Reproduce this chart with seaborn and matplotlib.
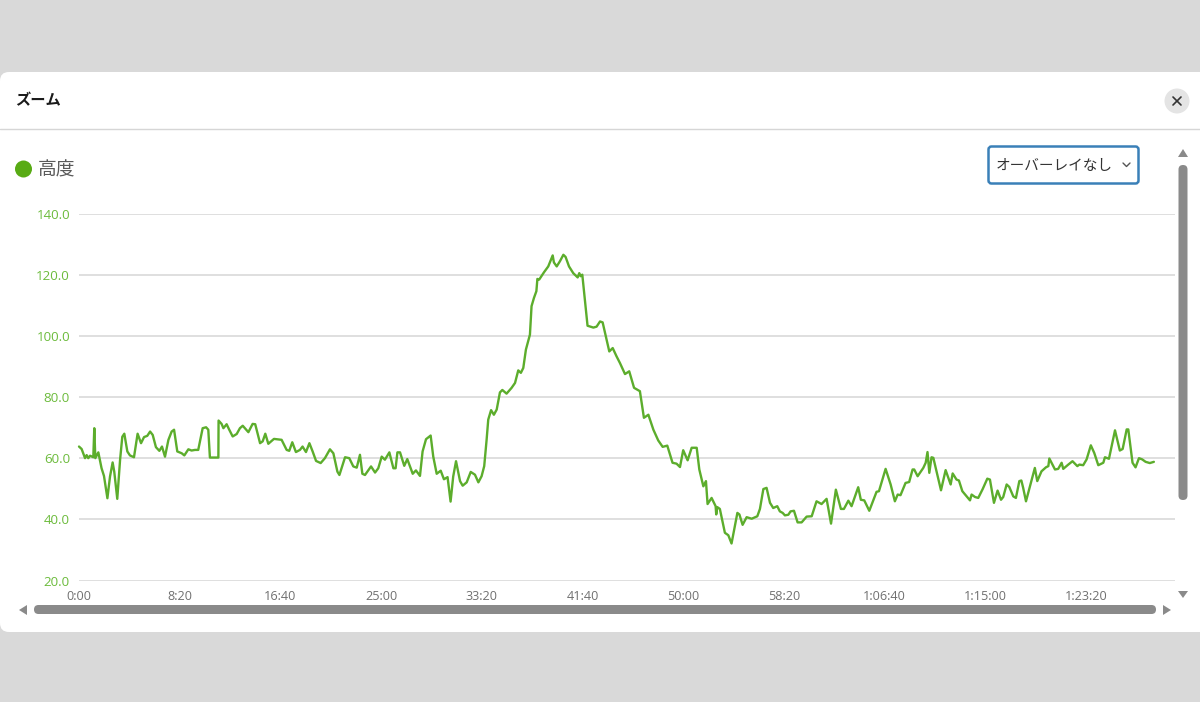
import matplotlib
matplotlib.use('Agg')
import matplotlib.pyplot as plt
from matplotlib.patches import Circle, FancyBboxPatch, Polygon
import seaborn as sns

# elevation profile (seconds, metres)
seconds = [
    0, 13, 30, 38, 46, 55, 71, 76, 81, 96, 112, 124, 141, 154, 167, 175, 190, 204, 215, 225,
    240, 253, 273, 291, 308, 323, 339, 353, 366, 382, 399, 412, 427, 444, 460, 472, 488, 510, 523, 543,
    559, 576, 592, 614, 631, 642, 650, 692, 693, 708, 717, 733, 746, 763, 783, 799, 813, 841, 862, 875,
    899, 912, 925, 940, 968, 1006, 1031, 1044, 1059, 1077, 1097, 1110, 1127, 1144, 1160, 1177, 1200, 1221, 1246, 1263,
    1283, 1293, 1321, 1342, 1362, 1379, 1395, 1407, 1420, 1450, 1470, 1486, 1503, 1519, 1541, 1561, 1572, 1581, 1594, 1615,
    1630, 1657, 1673, 1693, 1706, 1723, 1746, 1759, 1776, 1796, 1812, 1830, 1845, 1858, 1872, 1892, 1905, 1925, 1945, 1966,
    1983, 1999, 2012, 2024, 2032, 2046, 2060, 2074, 2090, 2102, 2123, 2148, 2165, 2181, 2194, 2206, 2219, 2239, 2247, 2259,
    2271, 2276, 2285, 2309, 2330, 2352, 2358, 2372, 2388, 2405, 2416, 2433, 2454, 2476, 2484, 2491, 2499, 2525, 2554, 2570,
    2587, 2600, 2616, 2633, 2650, 2669, 2686, 2711, 2732, 2756, 2785, 2805, 2827, 2852, 2876, 2898, 2921, 2947, 2967, 2984,
    3000, 3022, 3042, 3067, 3080, 3100, 3113, 3121, 3141, 3161, 3164, 3169, 3182, 3207, 3224, 3240, 3269, 3279, 3295, 3315,
    3340, 3368, 3381, 3398, 3414, 3431, 3447, 3467, 3480, 3494, 3505, 3522, 3533, 3550, 3568, 3588, 3613, 3638, 3662, 3687,
    3712, 3734, 3758, 3783, 3798, 3820, 3836, 3869, 3882, 3899, 3924, 3960, 3972, 4005, 4030, 4051, 4065, 4079, 4104, 4122,
    4139, 4147, 4164, 4192, 4204, 4213, 4222, 4233, 4242, 4280, 4303, 4328, 4338, 4357, 4369, 4386, 4424, 4432, 4449, 4465,
    4487, 4510, 4523, 4543, 4561, 4578, 4589, 4606, 4619, 4639, 4652, 4669, 4679, 4688, 4702, 4726, 4746, 4758, 4779, 4801,
    4813, 4818, 4846, 4862, 4879, 4887, 4912, 4933, 4957, 4967, 4986, 5003, 5024, 5041, 5061, 5086, 5094, 5114, 5144, 5168,
    5182, 5202, 5210, 5231, 5246, 5263, 5279, 5296, 5317, 5337,
]
altitude = [
    63.8, 63, 60, 61, 60, 60.8, 60.3, 69.8, 60, 61.9, 56.7, 54.2, 46.9, 54, 58.6, 55.6, 46.7, 59.5, 67, 68,
    62.2, 60.9, 60.3, 68, 64.9, 66.9, 67.3, 68.7, 67.6, 63.6, 62.4, 63.8, 60.5, 66, 68.7, 69.3, 62.2, 61.6, 60.9, 62.9,
    62.5, 62.7, 62.7, 69.8, 70.1, 69.3, 60.2, 60.2, 72.3, 71.2, 69.8, 71.1, 69.3, 67.1, 67.9, 69.8, 70.6, 68.5, 71.2, 71.1,
    64.9, 65.5, 68, 64.7, 66.3, 66, 62.7, 62.4, 65.2, 62, 62.7, 63.8, 62, 64.9, 62.2, 59.1, 58.4, 60, 62.9, 61.6,
    55.6, 54.5, 60.3, 60, 57.3, 56.9, 61.1, 54.9, 54.5, 57.3, 55.3, 56.7, 60.5, 59.5, 61.9, 56.7, 56.7, 61.9, 61.9, 57.5,
    59.7, 54.9, 56, 54.2, 62.2, 66.2, 67.4, 60.5, 54.9, 55.9, 53.1, 53.8, 45.8, 54, 59, 52.5, 51, 52.1, 55.5, 54.6,
    52.1, 54.1, 57.4, 66.1, 72.6, 75.7, 74.2, 75.9, 81.5, 82.3, 81.1, 83, 84.6, 88.7, 87.9, 89.5, 95.5, 100.4, 109.7, 112.4,
    114.6, 118.6, 118.4, 120.8, 122.7, 126.3, 124, 122.7, 124.4, 126.5, 125.8, 122.7, 120.5, 119.1, 120.5, 119.5, 120, 103.3, 102.7, 103,
    104.7, 104.4, 99.8, 94.9, 96, 93.3, 91.1, 87.5, 88.4, 83, 81.9, 73.2, 74.2, 69.3, 65.8, 63.7, 64.1, 58.5, 58.2, 57.1,
    62.6, 59.3, 63.4, 63.4, 56.3, 50.8, 52.5, 45, 47, 44.3, 41.6, 44, 43.4, 35.6, 34.8, 32.1, 42.1, 41.6, 38.2, 40.7,
    40.2, 41, 43.4, 49.9, 50.3, 45.4, 43.7, 44.3, 42.6, 42.1, 41.3, 41.5, 42.6, 42.8, 39, 39, 40.9, 41, 45.9, 45,
    46.7, 38.6, 49.7, 43.4, 43.4, 46.1, 44.3, 50.5, 46.4, 46.2, 42.8, 49, 49.2, 56.5, 51.4, 45.9, 48.1, 47.9, 51.9, 52.2,
    56.3, 56.3, 54.1, 56.8, 58.5, 62, 55.2, 60.3, 60.1, 49.5, 56.1, 51.4, 55, 53, 52.7, 49.2, 46.2, 48.1, 47.3, 47,
    49.9, 53.3, 53, 45.4, 49.4, 46.4, 47.3, 51.4, 50.6, 47.5, 47, 52.5, 52.7, 50.3, 45.9, 51.9, 56.8, 52.5, 55.7, 57,
    57.4, 59.9, 56.3, 56.5, 58.5, 56.5, 57.9, 59, 57.4, 57.9, 57.7, 59.6, 64.2, 61.7, 57.7, 58.5, 60.3, 59.8, 69.1, 62.5,
    63, 69.4, 69.4, 58.5, 57, 60, 59.6, 58.8, 58.4, 58.8,
]
x_ticks = [0, 500, 1000, 1500, 2000, 2500, 3000, 3500, 4000, 4500, 5000]
x_labels = ['0:00', '8:20', '16:40', '25:00', '33:20', '41:40', '50:00', '58:20', '1:06:40', '1:15:00', '1:23:20']
y_ticks = [20, 40, 60, 80, 100, 120, 140]
y_labels = ['20.0', '40.0', '60.0', '80.0', '100.0', '120.0', '140.0']

GREEN = '#5cad2c'
GRID = '#d9d9d9'
BAR = '#8a8a8a'
W, H = 1200, 702

sns.set_style('white')
plt.rcParams['font.family'] = ['Open Sans', 'Noto Sans CJK JP', 'DejaVu Sans']

fig = plt.figure(figsize=(W / 100, H / 100), dpi=100, facecolor='#d9d9d9')

# dialog chrome, in pixel coordinates
ui = fig.add_axes([0, 0, 1, 1], zorder=0)
ui.set_xlim(0, W)
ui.set_ylim(H, 0)
ui.axis('off')
# right corners run off the edge of the screenshot
ui.add_patch(FancyBboxPatch((0, 72), W + 30, 560, boxstyle='round,pad=0,rounding_size=9',
                            fc='white', ec='none'))
ui.plot([0, W], [128.5, 128.5], color='#d6d6d6', lw=1)
ui.text(15.5, 100, 'ズーム', fontsize=11, fontweight='bold', color='#1a1a1a', va='center', family=['Noto Sans CJK JP'])
ui.add_patch(Circle((1177, 101), 12.5, fc='#e4e4e4', ec='none'))
ui.plot([1173, 1181], [97, 105], color='#333333', lw=1.2)
ui.plot([1173, 1181], [105, 97], color='#333333', lw=1.2)

ui.add_patch(Circle((23.5, 169), 8.5, fc='#58ab14', ec='none'))
ui.text(38, 170, '高度', fontsize=13.5, color='#5a5a5a', va='center', family=['Noto Sans CJK JP'])

ui.add_patch(FancyBboxPatch((988.5, 146.5), 150, 37, boxstyle='round,pad=0,rounding_size=3',
                            fc='white', ec='#3a80b8', lw=1.8))
ui.text(996, 166, 'オーバーレイなし', fontsize=10.55, color='#333333', va='center', family=['Noto Sans CJK JP'])
ui.plot([1123, 1126.5, 1130], [163, 166.5, 163], color='#555555', lw=1)

# scrollbars
ui.add_patch(FancyBboxPatch((1178.5, 165), 9, 335, boxstyle='round,pad=0,rounding_size=4.5', fc=BAR, ec='none'))
ui.add_patch(FancyBboxPatch((34, 605), 1122, 9, boxstyle='round,pad=0,rounding_size=4.5', fc=BAR, ec='none'))
ui.add_patch(Polygon([(1183, 149), (1178, 157), (1188, 157)], fc=BAR, ec='none'))
ui.add_patch(Polygon([(1178, 591), (1188, 591), (1183, 598)], fc=BAR, ec='none'))
ui.add_patch(Polygon([(27, 605), (27, 615), (19, 610)], fc=BAR, ec='none'))
ui.add_patch(Polygon([(1163, 605), (1163, 615), (1171, 610)], fc=BAR, ec='none'))

# chart
ax = fig.add_axes([79 / W, 1 - 580.5 / H, (1175 - 79) / W, (580.5 - 213.5) / H], zorder=1)
ax.patch.set_alpha(0)
ax.set_xlim(0, (1175 - 79) / 0.2014)
ax.set_ylim(20, 140)
sns.lineplot(x=seconds, y=altitude, estimator=None, color=GREEN, linewidth=1.7, ax=ax, clip_on=False,
             solid_joinstyle='round')
sns.despine(ax=ax, left=True, bottom=True, top=True, right=True)
ax.set_yticks(y_ticks, y_labels, color='#6cbb3c', fontsize=9.6)
ax.set_xticks(x_ticks, x_labels, color='#707070', fontsize=9.1)
ax.tick_params(axis='y', length=0, pad=6.5)
ax.tick_params(axis='x', length=0, pad=6.5)
ax.grid(axis='y', color=GRID, lw=1.2)
ax.grid(axis='x', visible=False)
ax.set_axisbelow(True)

fig.savefig('out.png', dpi=100, facecolor=fig.get_facecolor())
